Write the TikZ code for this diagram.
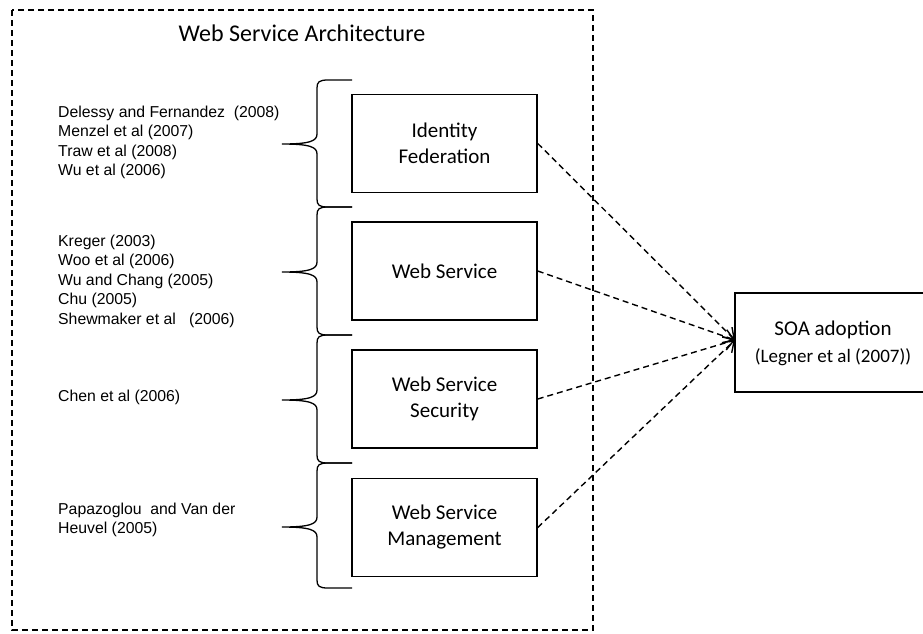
\documentclass[tikz,border=0pt]{standalone}
\usepackage{fontspec}
\setmainfont{Liberation Sans}
\newfontfamily\boxfont{Carlito}
\usetikzlibrary{arrows.meta}
\tikzset{
  x=1pt, y=-1pt,
  outerbox/.style={draw, line width=1.2pt, dash pattern=on 6pt off 4pt},
  compbox/.style={draw, line width=1.5pt, minimum width=185pt, minimum height=98pt, inner sep=0pt, align=center, font=\boxfont\fontsize{21}{26}\selectfont},
  soabox/.style={draw, line width=1.5pt, minimum width=196pt, minimum height=99pt, inner sep=0pt, align=center},
  reftext/.style={anchor=west, inner sep=0pt, align=left, font=\fontsize{15.8}{19.5}\selectfont},
  bracestyle/.style={draw, line width=1.3pt},
  dasharrow/.style={draw, line width=1.4pt, dash pattern=on 6pt off 4pt, -{Straight Barb[length=10pt,width=14pt]}},
}
\newcommand\mybrace[3]{%
  \draw[bracestyle] (352,#1) -- (328,#1) .. controls (319,#1) and (317,#1+2) .. (317,#1+8)
    -- (317,#2-10) .. controls (317,#2-3) and (310,#2) .. (282,#2)
    .. controls (310,#2) and (317,#2+3) .. (317,#2+10)
    -- (317,#3-8) .. controls (317,#3-2) and (319,#3) .. (328,#3) -- (352,#3);}
\begin{document}
\begin{tikzpicture}
\useasboundingbox (0,0) rectangle (923,633);
\fill[white] (0,0) rectangle (923,633);
\draw[outerbox] (12,10) rectangle (593,630);
\node[font=\boxfont\fontsize{24}{28}\selectfont] (title) at (302,33) {Web Service Architecture};

\node[compbox] (b1) at (444.5,143.5) {Identity\\Federation};
\node[compbox] (b2) at (444.5,271) {Web Service};
\node[compbox] (b3) at (444.5,399) {Web Service\\Security};
\node[compbox] (b4) at (444.5,527.5) {Web Service\\Management};

\node[soabox] (soa) at (833,342.5) {};
\node[font=\boxfont\fontsize{21}{24}\selectfont] (soat) at (833,330) {SOA adoption};
\node[font=\boxfont\fontsize{19}{22}\selectfont] (soar) at (833,357) {(Legner et al (2007))};
\coordinate (tip) at (735,340);

\mybrace{80}{144}{207}
\mybrace{207}{272}{335}
\mybrace{335}{400}{463}
\mybrace{463}{527}{588}

\node[reftext] (r1) at (58,142.5) {Delessy and Fernandez\ \ (2008)\\Menzel et al (2007)\\Traw et al (2008)\\Wu et al (2006)};
\node[reftext] (r2) at (58,281) {Kreger (2003)\\Woo et al (2006)\\Wu and Chang (2005)\\Chu (2005)\\Shewmaker et al\ \ \ (2006)};
\node[reftext] (r3) at (58,397) {Chen et al (2006)};
\node[reftext] (r4) at (58,520) {Papazoglou\ \ and Van der\\Heuvel (2005)};

\draw[dasharrow] (b1.east) -- (tip);
\draw[dasharrow] (b2.east) -- (tip);
\draw[dasharrow] (b3.east) -- (tip);
\draw[dasharrow] (b4.east) -- (tip);
\end{tikzpicture}
\end{document}
